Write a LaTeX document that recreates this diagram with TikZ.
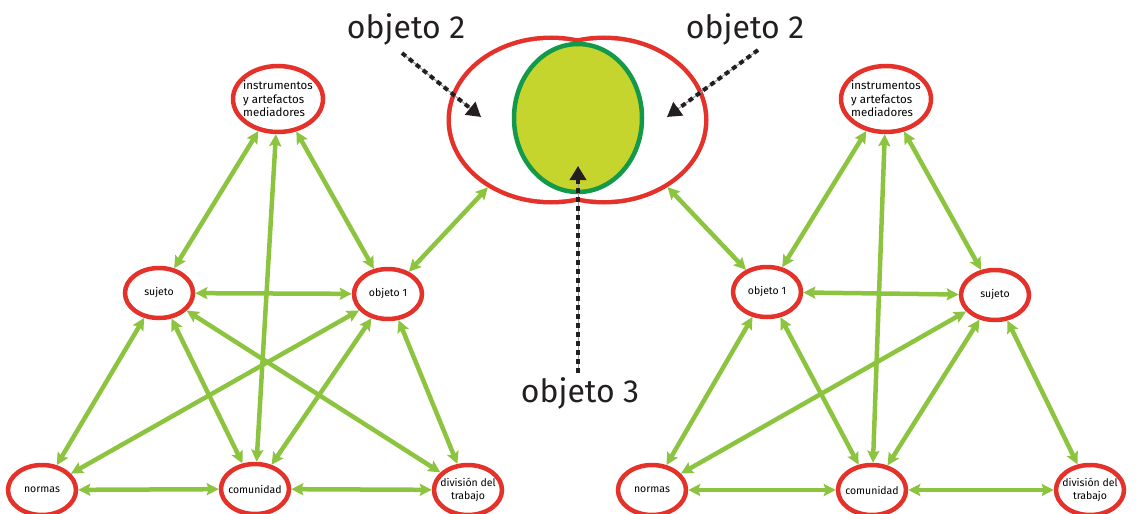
\documentclass[tikz,border=0pt]{standalone}
\usepackage{fontspec}
\setmainfont{Fira Sans}
\usetikzlibrary{shapes.geometric,arrows.meta}
\definecolor{ringred}{HTML}{E4322B}
\definecolor{linkgreen}{HTML}{8CC43F}
\definecolor{objfill}{HTML}{C6D52E}
\definecolor{objline}{HTML}{12994A}
\definecolor{labelgray}{HTML}{231F20}
\begin{document}
\begin{tikzpicture}[x=1pt,y=-1pt,
  actor/.style={shape=ellipse,draw=ringred,line width=4.5pt,fill=white,inner sep=-10pt,
    minimum width=68pt,minimum height=50pt,font=\fontsize{10.5}{12.5}\selectfont,align=center},
  tool/.style={actor,minimum width=90pt,minimum height=66pt,align=left,
    font=\fontsize{11.5}{13.5}\selectfont},
  link/.style={draw=linkgreen,line width=4.5pt,
    {Stealth[length=12pt,width=12pt,inset=2pt]}-{Stealth[length=12pt,width=12pt,inset=2pt]}},
  bigring/.style={shape=ellipse,draw=ringred,line width=9pt,inner sep=0pt,
    minimum width=200pt,minimum height=160pt},
  bigtext/.style={text=labelgray,font=\fontsize{32}{36}\selectfont,inner sep=0pt},
  pointer/.style={draw=labelgray,line width=4pt,dash pattern=on 5pt off 4pt,
    -{Triangle[length=14pt,width=16pt]},
    preaction={draw=black!40,line width=1pt,solid,arrows=-}}]
  \useasboundingbox (0,0) rectangle (1141,514);
  % left triangle
  \node[tool] (instrL) at (278,99) {instrumentos\\y artefactos\\mediadores};
  \node[actor] (sujetoL) at (159,293) {sujeto};
  \node[actor] (objL) at (388,294) {objeto 1};
  \node[actor] (normasL) at (42,490) {normas};
  \node[actor] (comL) at (255,489) {comunidad};
  \node[actor] (divL) at (468,490) {división del\\trabajo};
  % right triangle
  \node[tool] (instrR) at (886,99) {instrumentos\\y artefactos\\mediadores};
  \node[actor] (objR) at (767,292) {objeto 1};
  \node[actor] (sujetoR) at (995,295) {sujeto};
  \node[actor] (normasR) at (652,490) {normas};
  \node[actor] (comR) at (872,490) {comunidad};
  \node[actor] (divR) at (1090,490) {división del\\trabajo};
  % shared object
  \node[bigring] (obj2L) at (551,120) {};
  \node[bigring] (obj2R) at (604,120) {};
  \fill[white] (obj2L.center) ellipse [x radius=100, y radius=80];
  \fill[white] (obj2R.center) ellipse [x radius=100, y radius=80];
  \node[shape=ellipse,fill=objfill,draw=objline,line width=4.5pt,inner sep=0pt,
    minimum width=128pt,minimum height=148pt] (obj3) at (578,118) {};
  \node[bigtext] (lab2L) at (406,29) {objeto 2};
  \node[bigtext] (lab2R) at (745,29) {objeto 2};
  \node[bigtext] (lab3) at (580,393) {objeto 3};
  \coordinate (tip2L) at (481,117);
  \coordinate (tip2R) at (667,117);
  \coordinate (tip3) at (578,166);
  \draw[pointer] ([xshift=-4pt,yshift=-8pt]lab2L.south) -- (tip2L);
  \draw[pointer] ([xshift=13pt,yshift=-5pt]lab2R.south) -- (tip2R);
  \draw[pointer] ([xshift=-2pt,yshift=4pt]lab3.north) -- (tip3);
  % left links
  \path (instrL) edge[link] (sujetoL);
  \path (instrL) edge[link] (objL);
  \path (instrL) edge[link] (comL);
  \path (sujetoL) edge[link] (objL);
  \path (sujetoL) edge[link] (normasL);
  \path (sujetoL) edge[link] (comL);
  \path (sujetoL) edge[link] (divL);
  \path (objL) edge[link] (normasL);
  \path (objL) edge[link] (comL);
  \path (objL) edge[link] (divL);
  \path (normasL) edge[link] (comL);
  \path (comL) edge[link] (divL);
  \path (objL) edge[link] (obj2L);
  % right links
  \path (instrR) edge[link] (objR);
  \path (instrR) edge[link] (sujetoR);
  \path (instrR) edge[link] (comR);
  \path (objR) edge[link] (sujetoR);
  \path (objR) edge[link] (normasR);
  \path (objR) edge[link] (comR);
  \path (sujetoR) edge[link] (normasR);
  \path (sujetoR) edge[link] (comR);
  \path (sujetoR) edge[link] (divR);
  \path (normasR) edge[link] (comR);
  \path (comR) edge[link] (divR);
  \path (objR) edge[link] (obj2R);
\end{tikzpicture}
\end{document}
